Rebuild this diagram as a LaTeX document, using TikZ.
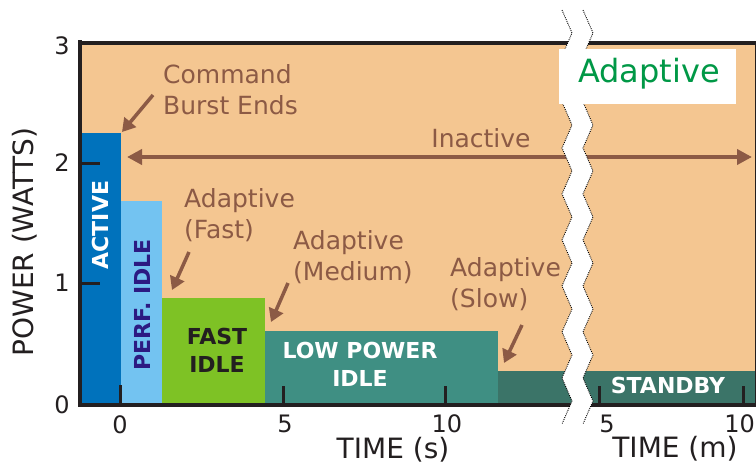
\documentclass[tikz,border=0pt]{standalone}
\usepackage{fontspec}
\setmainfont{DejaVu Sans}
\usetikzlibrary{arrows.meta}

\definecolor{peach}{RGB}{244,198,145}
\definecolor{activeblue}{RGB}{0,114,188}
\definecolor{perfblue}{RGB}{115,195,241}
\definecolor{fastgreen}{RGB}{126,194,37}
\definecolor{lowteal}{RGB}{63,143,131}
\definecolor{standbyteal}{RGB}{59,116,104}
\definecolor{brownc}{RGB}{140,90,69}
\definecolor{greentext}{RGB}{0,152,70}
\definecolor{indigo}{RGB}{44,26,130}
\definecolor{axisc}{RGB}{35,31,32}

\begin{document}
\begin{tikzpicture}[x=1pt,y=-1pt,
  annot/.style={text=brownc, font=\fontsize{25}{31}\selectfont, inner sep=0pt, anchor=base west},
  barlabel/.style={font=\bfseries\fontsize{22}{28}\selectfont, inner sep=0pt},
  axislabel/.style={text=axisc, font=\fontsize{28}{32}\selectfont, inner sep=0pt, anchor=base},
  ticklabel/.style={text=axisc, font=\fontsize{24}{28}\selectfont, inner sep=0pt},
  pointer/.style={draw=brownc, line width=3.5pt, -{Triangle[length=13pt,width=15pt]}},
  axisline/.style={draw=axisc, line width=4pt},
  tickmark/.style={draw=axisc, line width=3pt},
  breakedge/.style={draw=black, line width=0.9pt, dash pattern=on 0.9pt off 1.1pt},
]
\useasboundingbox (0,0) rectangle (756,466);

% plot background
\fill[peach] (80,42) rectangle (756,405);

% power levels
\fill[activeblue]  (80,133)  rectangle (121,404);
\fill[perfblue]    (121,201) rectangle (162,404);
\fill[fastgreen]   (162,298) rectangle (265,404);
\fill[lowteal]     (265,331) rectangle (498,404);
\fill[standbyteal] (498,371) rectangle (756,404);

% state labels
\node[barlabel, text=white, rotate=90] (active) at (100,225) {ACTIVE};
\node[barlabel, text=indigo, rotate=90] (perf) at (142,305) {PERF. IDLE};
\node[barlabel, text=axisc, align=center] (fast) at (217,350) {FAST\\IDLE};
\node[barlabel, text=white, align=center] (low) at (360,364) {LOW POWER\\IDLE};
\node[barlabel, text=white, anchor=base] (standby) at (668,393) {STANDBY};

% ticks
\draw[tickmark] (82,163) -- (100,163);
\draw[tickmark] (82,283) -- (100,283);
\draw[tickmark] (120,385) -- (120,404);
\draw[tickmark] (283,386) -- (283,404);
\draw[tickmark] (445,386) -- (445,404);
\draw[tickmark] (599,386) -- (599,404);
\draw[tickmark] (743,386) -- (743,404);

% axes frame
\draw[axisline] (80,40) -- (80,407);
\draw[axisline] (78,42.5) -- (756,42.5);
\draw[axisline] (78,404.5) -- (756,404.5);
\draw[draw=axisc, line width=1pt] (755.5,42) -- (755.5,405);

% tick labels
\node[ticklabel] (y3) at (62,46) {3};
\node[ticklabel] (y2) at (62,163) {2};
\node[ticklabel] (y1) at (62,283) {1};
\node[ticklabel] (y0) at (62,405) {0};
\node[ticklabel] (x0) at (120,425) {0};
\node[ticklabel] (x5) at (285,424) {5};
\node[ticklabel] (x10) at (447,424) {10};
\node[ticklabel] (m5) at (607,424) {5};
\node[ticklabel, anchor=east] (m10) at (755,424) {10};

% axis titles
\node[axislabel, rotate=90] (ylab) at (33,242) {POWER (WATTS)};
\node[axislabel] (xlabs) at (393,458) {TIME (s)};
\node[axislabel] (xlabm) at (675,457) {TIME (m)};

% annotations
\node[annot] (cmd1) at (163,83) {Command};
\node[annot] (cmd2) at (163,114) {Burst Ends};
\node[annot] (fast1) at (184,207) {Adaptive};
\node[annot] (fast2) at (184,238) {(Fast)};
\node[annot] (med1) at (293,249) {Adaptive};
\node[annot] (med2) at (293,280) {(Medium)};
\node[annot] (slow1) at (450,276) {Adaptive};
\node[annot] (slow2) at (450,307) {(Slow)};
\node[annot, anchor=base] (inact) at (481,147) {Inactive};

\coordinate (cmdA) at (153,95);   \coordinate (cmdB) at (122,132);
\coordinate (fastA) at (189,252); \coordinate (fastB) at (172,290);
\coordinate (medA) at (288,283);  \coordinate (medB) at (271,322);
\coordinate (slowA) at (522,325); \coordinate (slowB) at (504,363);
\draw[pointer] (cmdA) -- (cmdB);
\draw[pointer] (fastA) -- (fastB);
\draw[pointer] (medA) -- (medB);
\draw[pointer] (slowA) -- (slowB);

% inactive span
\coordinate (inL) at (127,157);
\coordinate (inR) at (752,157);
\draw[draw=brownc, line width=4pt, {Triangle[length=15pt,width=15pt]}-{Triangle[length=15pt,width=15pt]}] (inL) -- (inR);

% axis break
\fill[white] (562,10)
  \foreach \i in {1,...,18} { -- ({562+10*mod(\i,2)},{10+23*\i}) }
  -- (583,424)
  \foreach \i in {17,...,0} { -- ({583+10*mod(\i,2)},{10+23*\i}) }
  -- cycle;
\draw[breakedge] (562,10)
  \foreach \i in {1,...,18} { -- ({562+10*mod(\i,2)},{10+23*\i}) };
\draw[breakedge] (583,10)
  \foreach \i in {1,...,18} { -- ({583+10*mod(\i,2)},{10+23*\i}) };

% legend box
\fill[white] (559,49) rectangle (736,104);
\node[text=greentext, font=\fontsize{32}{36}\selectfont, inner sep=0pt, anchor=base] (adapt) at (649,82) {Adaptive};
\end{tikzpicture}
\end{document}
